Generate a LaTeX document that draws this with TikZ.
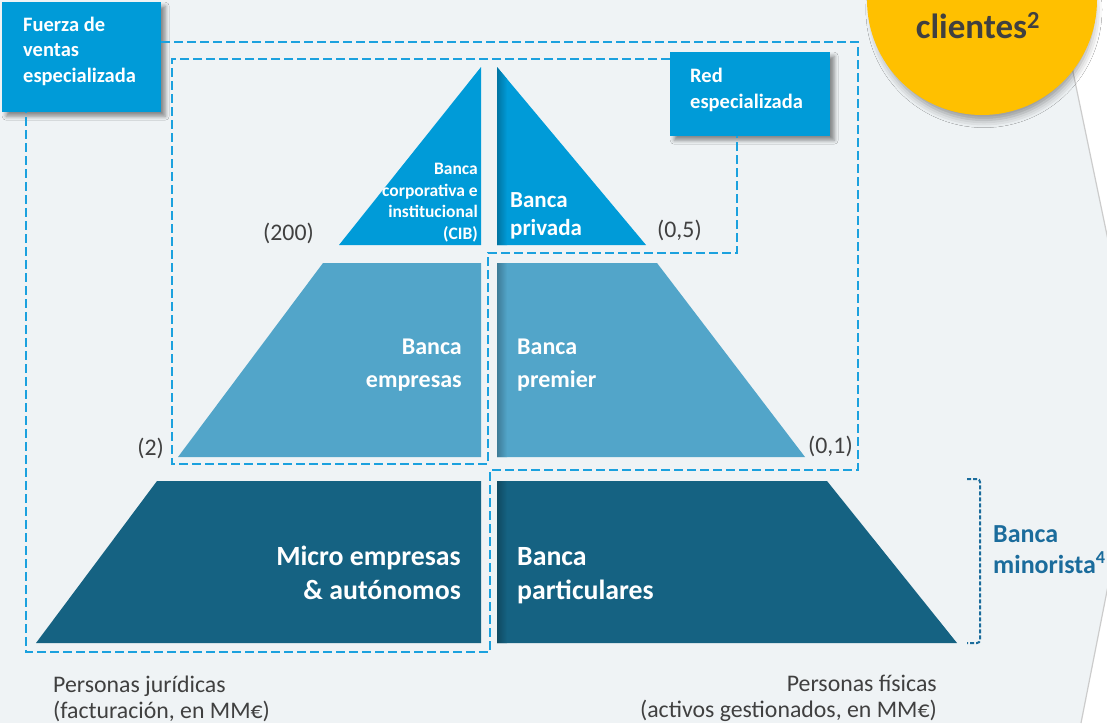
\documentclass[tikz,border=0pt]{standalone}
\usepackage{fontspec}
\setmainfont{Carlito}
\usetikzlibrary{shadows.blur}

\definecolor{bgGray}{HTML}{EFF3F5}
\definecolor{topBlue}{HTML}{009BD8}
\definecolor{midBlue}{HTML}{52A5C9}
\definecolor{lowBlue}{HTML}{156282}
\definecolor{dashBlue}{HTML}{1BA1DE}
\definecolor{minBlue}{HTML}{1B6C9C}
\definecolor{txtGray}{HTML}{404040}
\definecolor{circYellow}{HTML}{FFC000}

\tikzset{
	segbox/.style={fill=topBlue, inner sep=0pt, anchor=north west,
		blur shadow={shadow xshift=4pt, shadow yshift=-4pt, shadow blur radius=4pt, shadow opacity=45}},
	boxtext/.style={text=white, inner sep=0pt, align=left, anchor=base west,
		font=\bfseries\fontsize{20.5}{25.5}\selectfont},
	dashline/.style={dashBlue, line width=2.6pt, dash pattern=on 9pt off 4pt},
	seglabel/.style={text=white, inner sep=0pt},
	limit/.style={text=txtGray, inner sep=0pt, font=\fontsize{23.8}{26}\selectfont},
}

\begin{document}
\begin{tikzpicture}[x=1pt, y=-1pt]
	\useasboundingbox (0,0) rectangle (1107,723);
	\fill[bgGray] (0,0) rectangle (1107,723);

	\fill[white] (1058,0) -- (1143,408) -- (1081,723) -- (1200,740) -- (1200,-20) -- cycle;
	\draw[black!20, line width=1.2pt] (1058,0) -- (1143,408) -- (1081,723);

	\node[circle, fill=circYellow, minimum size=230pt, inner sep=0pt,
		blur shadow={shadow xshift=2pt, shadow yshift=-10pt, shadow scale=0.96, shadow blur radius=8pt, shadow opacity=40}] (clientes) at (982,0) {};
	\node[text=txtGray, inner sep=0pt, anchor=base, font=\bfseries\fontsize{35}{40}\selectfont] (clientestxt) at (978,38) {clientes\textsuperscript{2}};

	\foreach \ytop/\ybot/\lt/\lb/\rt/\rb/\col in {67/245/481/339/497/646/topBlue, 263/457/323/178/657/805/midBlue, 481/643/157/36/827/957/lowBlue}{
		\fill[\col] (481,\ytop) -- (\lt,\ytop) -- (\lb,\ybot) -- (481,\ybot) -- cycle;
		\fill[\col] (497,\ytop) -- (\rt,\ytop) -- (\rb,\ybot) -- (497,\ybot) -- cycle;
		\begin{scope}
			\clip (497,\ytop) -- (\rt,\ytop) -- (\rb,\ybot) -- (497,\ybot) -- cycle;
			\shade[left color=\col!75!black, right color=\col] (497,\ytop) rectangle (507,\ybot);
		\end{scope}
	}

	\node[seglabel, anchor=base east, align=right, font=\bfseries\fontsize{17.5}{21.5}\selectfont] (cib) at (478,239) {Banca\\corporativa e\\institucional\\(CIB)};
	\node[seglabel, anchor=base west, align=left, font=\bfseries\fontsize{23}{28}\selectfont] (privada) at (510,235) {Banca\\privada};
	\node[seglabel, anchor=base east, align=right, font=\bfseries\fontsize{24}{33}\selectfont] (empresas) at (462,387) {Banca\\empresas};
	\node[seglabel, anchor=base west, align=left, font=\bfseries\fontsize{24}{33}\selectfont] (premier) at (517,387) {Banca\\premier};
	\node[seglabel, anchor=base east, align=right, font=\bfseries\fontsize{27.8}{34}\selectfont] (micro) at (461,599) {Micro empresas\\\& autónomos};
	\node[seglabel, anchor=base west, align=left, font=\bfseries\fontsize{27.8}{34}\selectfont] (particulares) at (517,599) {Banca\\particulares};

	\node[limit, anchor=base east] (lim200) at (314,240) {(200)};
	\node[limit, anchor=base west] (lim05) at (657,237) {(0,5)};
	\node[limit, anchor=base east] (lim2) at (164,455) {(2)};
	\node[limit, anchor=base west] (lim01) at (808,453) {(0,1)};

	\node[segbox, minimum width=159pt, minimum height=110pt] (fuerza) at (2,2) {};
	\node[boxtext] (fuerzatxt) at (23,82) {Fuerza de\\ventas\\especializada};
	\node[segbox, minimum width=160pt, minimum height=84pt] (red) at (670,52) {};
	\node[boxtext] (redtxt) at (690,108) {Red\\especializada};

	\draw[dashline] (fuerza.east |- 0,42) -- (858,42) -- (858,470) -- (490,470) -- (490,652) -- (26,652) -- (fuerza.south -| 26,0);
	\draw[dashline] (red.west |- 0,59) -- (172,59) -- (172,464) -- (488,464) -- (488,253) -- (737,253) -- (red.south -| 737,0);

	\draw[minBlue, line width=2pt, dash pattern=on 4pt off 2pt, rounded corners=3pt] (967,479) -- (980,479) -- (980,643) -- (967,643);
	\node[text=minBlue, inner sep=0pt, anchor=base west, align=left, font=\bfseries\fontsize{26}{31}\selectfont] (minorista) at (993,573) {Banca\\minorista\textsuperscript{4}};

	\node[limit, anchor=base west, align=left] (juridicas) at (53,718) {Personas jurídicas\\(facturación, en MM€)};
	\node[limit, anchor=base east, align=right] (fisicas) at (937,717) {Personas físicas\\(activos gestionados, en MM€)};
\end{tikzpicture}
\end{document}
